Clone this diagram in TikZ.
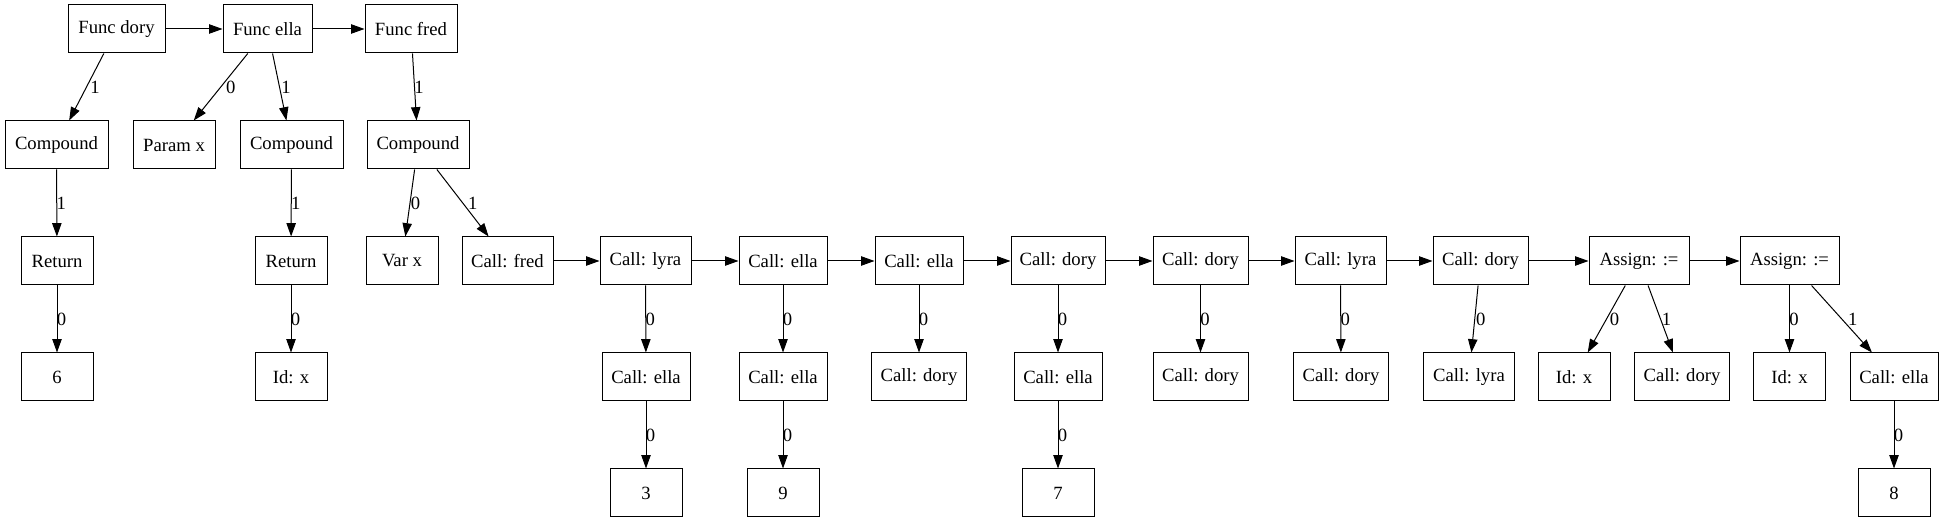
\documentclass[tikz,border=0pt]{standalone}
\usepackage{fontspec}
\setmainfont{Liberation Serif}
\usetikzlibrary{arrows.meta}
\begin{document}
\begin{tikzpicture}[x=0.75pt,y=-0.75pt,
  box/.style={draw, line width=0.75pt, rectangle, minimum height=36pt, inner sep=0pt,
    minimum width=#1*0.75pt, font=\fontsize{14}{16}\selectfont},
  box/.default=72,
  arr/.style={line width=0.75pt, -{Triangle[length=10pt,width=7pt]}},
  lbl/.style={inner sep=0pt, midway, xshift=#1*0.75pt, font=\fontsize{14}{16}\selectfont},
  lbl/.default=4.5]
\useasboundingbox (0,0) rectangle (1943,523);
% row 1
\node[box=97] (fdory) at (116.5,29) {Func dory};
\node[box=89] (fella) at (267.5,29) {Func ella};
\node[box=92] (ffred) at (411,29) {Func fred};
% row 2
\node[box=103] (comp1) at (56.5,145) {Compound};
\node[box=82] (param) at (174,145) {Param x};
\node[box=103] (comp2) at (291.5,145) {Compound};
\node[box=102] (comp3) at (418,145) {Compound};
% row 3
\node[box] (ret1) at (57,261) {Return};
\node[box] (ret2) at (291,261) {Return};
\node[box] (varx) at (402,261) {Var x};
\node[box=91] (cfred) at (507.5,261) {Call: fred};
\node[box=91] (clyra) at (645.5,261) {Call: lyra};
\node[box=88] (cella1) at (783,261) {Call: ella};
\node[box=88] (cella2) at (919,261) {Call: ella};
\node[box=94] (cdory1) at (1058,261) {Call: dory};
\node[box=95] (cdory2) at (1200.5,261) {Call: dory};
\node[box=91] (clyra2) at (1340.5,261) {Call: lyra};
\node[box=95] (cdory3) at (1480.5,261) {Call: dory};
\node[box=100] (asg1) at (1639,261) {Assign: :=};
\node[box=99] (asg2) at (1789.5,261) {Assign: :=};
% row 4
\node[box] (n6) at (57,377) {6};
\node[box] (idx0) at (291,377) {Id: x};
\node[box=88] (cella3) at (646,377) {Call: ella};
\node[box=88] (cella4) at (783,377) {Call: ella};
\node[box=95] (cdory4) at (919,377) {Call: dory};
\node[box=88] (cella5) at (1058,377) {Call: ella};
\node[box=95] (cdory5) at (1200.5,377) {Call: dory};
\node[box=95] (cdory6) at (1341,377) {Call: dory};
\node[box=91] (clyra3) at (1469,377) {Call: lyra};
\node[box] (idx1) at (1574,377) {Id: x};
\node[box=95] (cdory7) at (1682,377) {Call: dory};
\node[box] (idx2) at (1789.5,377) {Id: x};
\node[box=88] (cella6) at (1894,377) {Call: ella};
% row 5
\node[box] (n3) at (646,493) {3};
\node[box] (n9) at (783,493) {9};
\node[box] (n7) at (1058,493) {7};
\node[box] (n8) at (1894,493) {8};
% sequence edges
\draw[arr] (fdory) -- (fella);
\draw[arr] (fella) -- (ffred);
\draw[arr] (cfred) -- (clyra);
\draw[arr] (clyra) -- (cella1);
\draw[arr] (cella1) -- (cella2);
\draw[arr] (cella2) -- (cdory1);
\draw[arr] (cdory1) -- (cdory2);
\draw[arr] (cdory2) -- (clyra2);
\draw[arr] (clyra2) -- (cdory3);
\draw[arr] (cdory3) -- (asg1);
\draw[arr] (asg1) -- (asg2);
% child edges
\draw[arr] (fdory) -- (comp1) node[lbl=8.5] {1};
\draw[arr] (fella) -- (param) node[lbl=10] {0};
\draw[arr] (fella) -- (comp2) node[lbl=6.5] {1};
\draw[arr] (ffred) -- (comp3) node[lbl=4.5] {1};
\draw[arr] (comp1) -- (ret1) node[lbl] {1};
\draw[arr] (ret1) -- (n6) node[lbl] {0};
\draw[arr] (comp2) -- (ret2) node[lbl] {1};
\draw[arr] (ret2) -- (idx0) node[lbl] {0};
\draw[arr] (comp3) -- (varx) node[lbl=5.6] {0};
\draw[arr] (comp3) -- (cfred) node[lbl=10] {1};
\draw[arr] (clyra) -- (cella3) node[lbl] {0};
\draw[arr] (cella3) -- (n3) node[lbl] {0};
\draw[arr] (cella1) -- (cella4) node[lbl] {0};
\draw[arr] (cella4) -- (n9) node[lbl] {0};
\draw[arr] (cella2) -- (cdory4) node[lbl] {0};
\draw[arr] (cdory1) -- (cella5) node[lbl] {0};
\draw[arr] (cella5) -- (n7) node[lbl] {0};
\draw[arr] (cdory2) -- (cdory5) node[lbl] {0};
\draw[arr] (clyra2) -- (cdory6) node[lbl] {0};
\draw[arr] (cdory3) -- (clyra3) node[lbl=6] {0};
\draw[arr] (asg1) -- (idx1) node[lbl=8] {0};
\draw[arr] (asg1) -- (cdory7) node[lbl=6] {1};
\draw[arr] (asg2) -- (idx2) node[lbl] {0};
\draw[arr] (asg2) -- (cella6) node[lbl=11] {1};
\draw[arr] (cella6) -- (n8) node[lbl] {0};
\end{tikzpicture}
\end{document}
